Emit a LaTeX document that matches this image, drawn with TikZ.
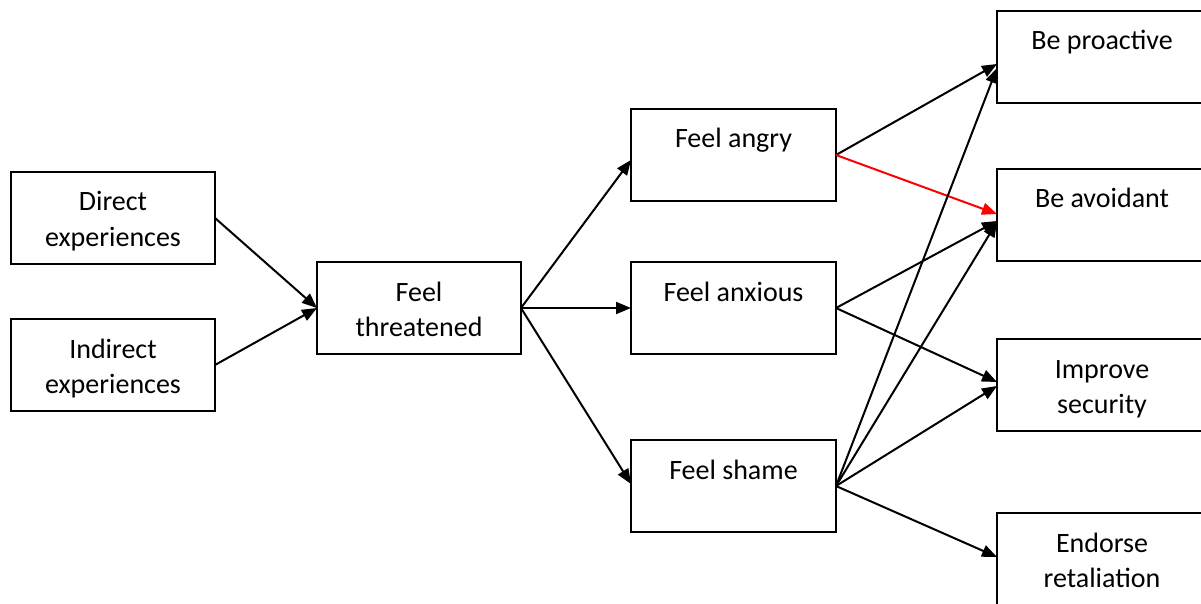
\documentclass[tikz,border=0pt]{standalone}
\usepackage{fontspec}
\setmainfont{Carlito}
\usetikzlibrary{arrows.meta,calc}
\newcommand\boxtext[2][204pt]{\parbox[c][92pt][t]{#1}{\centering\rule{0pt}{39pt}#2}}
\begin{document}
\begin{tikzpicture}[x=1pt,y=-1pt,
  stbox/.style={draw=black,line width=1.5pt,inner sep=0pt,outer sep=0pt,
    font=\fontsize{28}{35}\selectfont},
  myarrow/.style={line width=2pt,-{Triangle[length=15pt,width=12pt]}},
]
\useasboundingbox (0,0) rectangle (1201,604);
% left column
\node[stbox] (de) at (113,218) {\boxtext{Direct\\experiences}};
\node[stbox] (ie) at (113,365) {\boxtext{Indirect\\experiences}};
% middle
\node[stbox] (ft) at (419,308) {\boxtext{Feel\\threatened}};
% emotions
\node[stbox] (fa) at (733.5,155) {\boxtext[205pt]{Feel angry}};
\node[stbox] (fx) at (733.5,308) {\boxtext[205pt]{Feel anxious}};
\node[stbox] (fs) at (733.5,486) {\boxtext[205pt]{Feel shame}};
% outcomes (right edge runs off the page)
\node[stbox] (bp) at (1102,57) {\boxtext[210pt]{Be proactive}};
\node[stbox] (ba) at (1102,215) {\boxtext[210pt]{Be avoidant}};
\node[stbox] (is) at (1102,385) {\boxtext[210pt]{Improve\\security}};
\node[stbox] (er) at (1102,559) {\boxtext[210pt]{Endorse\\retaliation}};
% connectors
\draw[myarrow] (de.east) -- (ft.west);
\draw[myarrow] (ie.east) -- (ft.west);
\draw[myarrow] (ft.east) -- ($(fa.west)+(0,5)$);
\draw[myarrow] (ft.east) -- (fx.west);
\draw[myarrow] (ft.east) -- ($(fs.west)+(0,-2)$);
\draw[myarrow] (fa.east) -- ($(bp.west)+(0,7)$);
\draw[myarrow,red] (fa.east) -- ($(ba.west)+(0,-1)$);
\draw[myarrow] (fx.east) -- ($(ba.west)+(0,6)$);
\draw[myarrow] (fx.east) -- ($(is.west)+(0,-3)$);
\draw[myarrow] (fs.east) -- ($(bp.west)+(0,11)$);
\draw[myarrow] (fs.east) -- ($(ba.west)+(0,7)$);
\draw[myarrow] (fs.east) -- ($(is.west)+(0,1)$);
\draw[myarrow] (fs.east) -- ($(er.west)+(0,-2)$);
\end{tikzpicture}
\end{document}
